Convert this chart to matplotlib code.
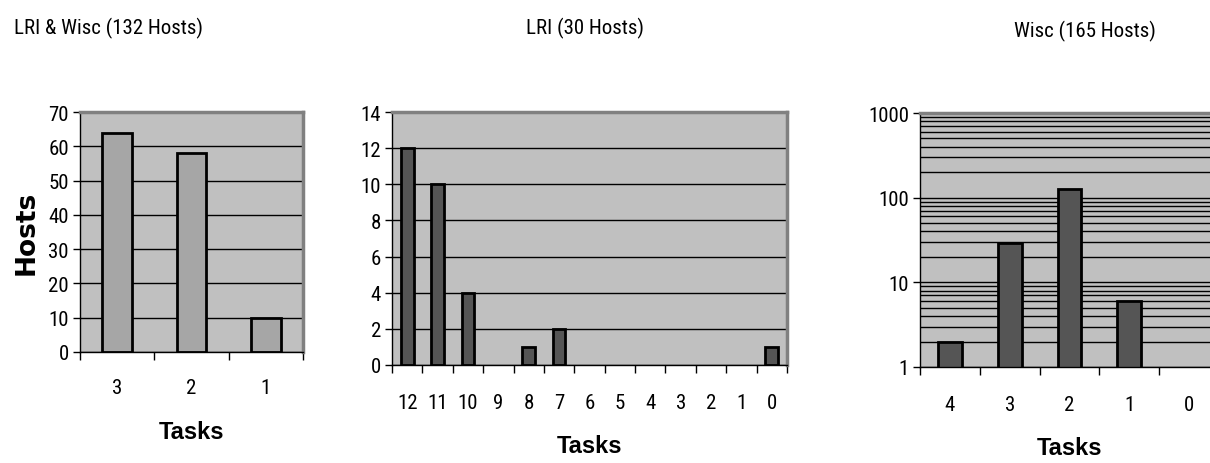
import matplotlib
matplotlib.use('Agg')
import matplotlib.pyplot as plt
from matplotlib.ticker import FixedLocator, LogLocator, NullFormatter

# Data
both_tasks = ['3', '2', '1']
both_hosts = [64, 58, 10]

lri_tasks = ['12', '11', '10', '9', '8', '7', '6', '5', '4', '3', '2', '1', '0']
lri_hosts = [12, 10, 4, 0, 1, 2, 0, 0, 0, 0, 0, 0, 1]

wisc_tasks = ['4', '3', '2', '1', '0']
wisc_hosts = [2, 29, 128, 6, 0]

plt.rcParams['font.family'] = ['Liberation Sans Narrow', 'Roboto Condensed', 'Liberation Sans', 'DejaVu Sans']

W, H = 1210, 464
fig = plt.figure(figsize=(W / 100, H / 100), dpi=100)


def px_axes(left, right, top, bottom):
    return fig.add_axes([left / W, (H - bottom) / H, (right - left) / W, (bottom - top) / H])


def style(ax, labels, pad):
    n = len(labels)
    ax.set_facecolor('#c0c0c0')
    ax.set_xlim(-0.5, n - 0.5)
    ax.set_xticks(range(n))
    ax.set_xticklabels(labels)
    ax.xaxis.set_minor_locator(FixedLocator([i - 0.5 for i in range(n + 1)]))
    ax.tick_params(axis='x', which='major', length=0, labelsize=15, pad=pad)
    ax.tick_params(axis='x', which='minor', length=6, width=1, color='black')
    ax.tick_params(axis='y', which='major', length=5, width=1, labelsize=15, pad=3)
    for side in ('top', 'right'):
        ax.spines[side].set_color('#808080')
        ax.spines[side].set_linewidth(2.5)
    for side in ('left', 'bottom'):
        ax.spines[side].set_color('black')
        ax.spines[side].set_linewidth(1)
    ax.set_axisbelow(True)


def bars(ax, values, color, width):
    # zero-height categories get no outline
    ax.bar(range(len(values)), values, width=width, color=color, edgecolor='black',
           linewidth=[2 if v > 0 else 0 for v in values])


label_font = dict(fontsize=17, fontweight='bold', family='Liberation Sans')

# Panel 1
ax1 = px_axes(80, 303, 113, 353)
style(ax1, both_tasks, 19)
bars(ax1, both_hosts, '#a6a6a6', 0.4)
ax1.set_ylim(0, 70)
ax1.set_yticks(range(0, 71, 10))
ax1.yaxis.grid(True, color='black', linewidth=1)
ax1.set_xlabel('Tasks', labelpad=16, **label_font)
ax1.set_ylabel('Hosts', fontsize=19, fontweight='bold', family='DejaVu Sans', labelpad=6)

# Panel 2
ax2 = px_axes(392, 787, 113, 366)
style(ax2, lri_tasks, 20)
bars(ax2, lri_hosts, '#555555', 0.42)
ax2.set_ylim(0, 14)
ax2.set_yticks(range(0, 15, 2))
ax2.yaxis.grid(True, color='black', linewidth=1)
ax2.set_xlabel('Tasks', labelpad=16, **label_font)

# Panel 3 (log scale, runs off the right edge)
ax3 = px_axes(920, 1219, 114, 368)
style(ax3, wisc_tasks, 20)
ax3.set_yscale('log')
bars(ax3, wisc_hosts, '#555555', 0.4)
ax3.set_ylim(1, 1000)
ax3.set_yticks([1, 10, 100, 1000])
ax3.set_yticklabels(['1', '10', '100', '1000'])
ax3.yaxis.set_minor_locator(LogLocator(base=10, subs=range(2, 10)))
ax3.yaxis.set_minor_formatter(NullFormatter())
ax3.tick_params(axis='y', which='minor', length=0)
ax3.yaxis.grid(True, which='both', color='black', linewidth=1)
ax3.set_xlabel('Tasks', labelpad=16, **label_font)

# Titles sit high above each panel
fig.text(108 / W, 1 - 28 / H, 'LRI & Wisc (132 Hosts)', fontsize=15, ha='center', va='center')
fig.text(585 / W, 1 - 28 / H, 'LRI (30 Hosts)', fontsize=15, ha='center', va='center')
fig.text(1085 / W, 1 - 31 / H, 'Wisc (165 Hosts)', fontsize=15, ha='center', va='center')

fig.savefig('out.png', dpi=100)
